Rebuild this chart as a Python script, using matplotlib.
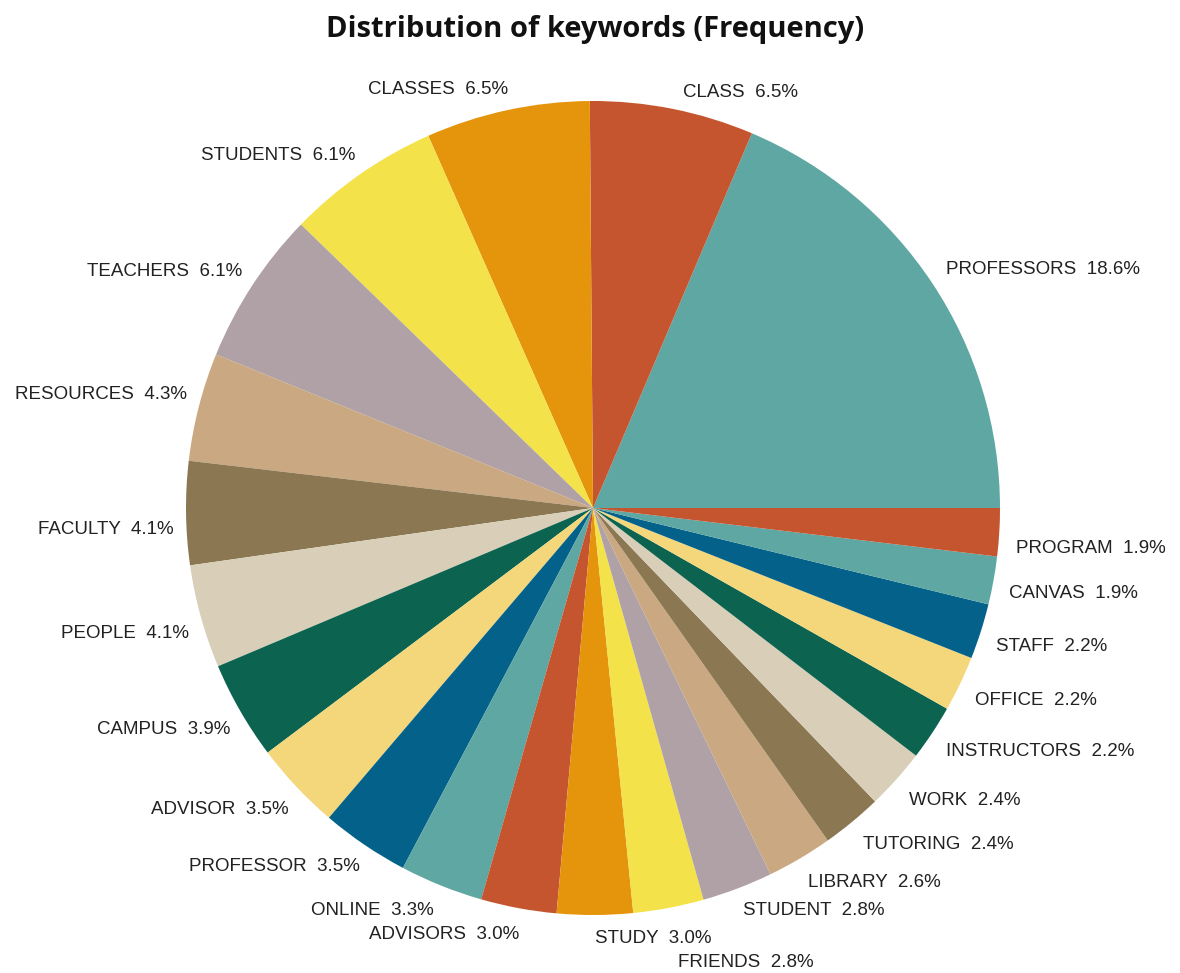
import matplotlib
matplotlib.use("Agg")
from matplotlib import pyplot as plt

keywords = ["PROFESSORS", "CLASS", "CLASSES", "STUDENTS", "TEACHERS", "RESOURCES",
            "FACULTY", "PEOPLE", "CAMPUS", "ADVISOR", "PROFESSOR", "ONLINE",
            "ADVISORS", "STUDY", "FRIENDS", "STUDENT", "LIBRARY", "TUTORING",
            "WORK", "INSTRUCTORS", "OFFICE", "STAFF", "CANVAS", "PROGRAM"]
share = [18.6, 6.5, 6.5, 6.1, 6.1, 4.3,
         4.1, 4.1, 3.9, 3.5, 3.5, 3.3,
         3.0, 3.0, 2.8, 2.8, 2.6, 2.4,
         2.4, 2.2, 2.2, 2.2, 1.9, 1.9]

palette = ["#5fa7a2", "#c4552f", "#e5950c", "#f4e24a", "#afa1a5", "#c9a882",
           "#8b7752", "#d9cfb9", "#0c6450", "#f4d67b", "#04628a"]

W, H = 1180, 973
R = 407            # pie radius in pixels
CX, CY = 593, 465  # pie centre in pixels (from bottom left)

fig = plt.figure(figsize=(W / 100, H / 100), dpi=100)
ax = fig.add_axes([0, 0, 1, 1])

colors = [palette[i % len(palette)] for i in range(len(share))]
labels = [f"{k}  {v:.1f}%" for k, v in zip(keywords, share)]

wedges, texts = ax.pie(share, labels=labels, colors=colors, startangle=0,
                       counterclock=True, labeldistance=1.04,
                       wedgeprops=dict(linewidth=0),
                       textprops=dict(fontsize=13.5, family="Liberation Sans",
                                      color="#222222"))

# labels above the centre sit a bit higher, those below a bit lower;
# a few crowded ones get an extra push (pixels)
nudge = {"CLASS": (7, -5), "RESOURCES": (0, 3), "FACULTY": (0, -6),
         "PEOPLE": (0, -2), "FRIENDS": (6, -29), "PROGRAM": (0, -5),
         "ONLINE": (-5, 0), "ADVISOR": (0, -2), "PROFESSOR": (0, 2),
         "STUDY": (0, 3), "STUDENT": (0, 3)}
for t, k in zip(texts, keywords):
    x, y = t.get_position()
    dx, dy = nudge.get(k, (0, 0))
    if t.get_ha() == "right":
        dx += 4
    dy += 5 if y > 0 else -10
    t.set_position((x + dx / R, y + dy / R))

ax.set_aspect("auto")
ax.set_xlim(-CX / R, (W - CX) / R)
ax.set_ylim(-CY / R, (H - CY) / R)
ax.axis("off")

fig.text(595 / W, 1 - 29 / H, "Distribution of keywords (Frequency)",
         ha="center", va="center", fontsize=21, fontweight="bold",
         family="Open Sans", color="#111111")

fig.savefig("out.png", dpi=100, facecolor="white")
